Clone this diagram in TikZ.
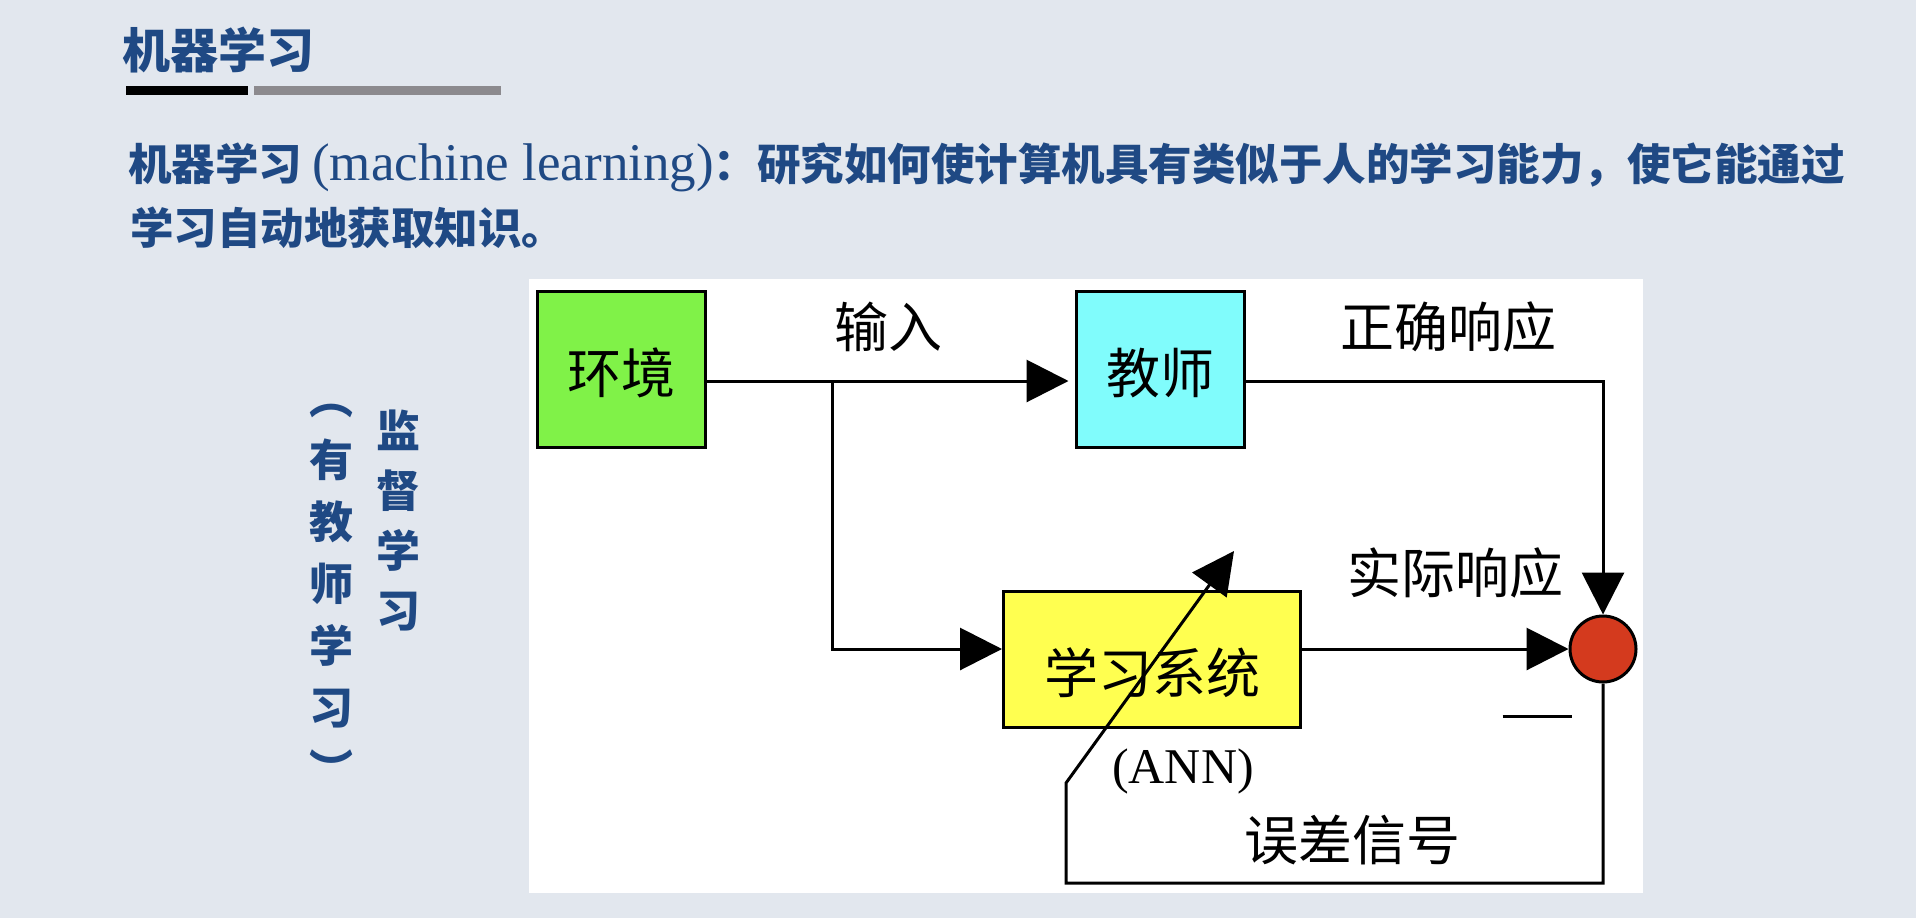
\documentclass[tikz,border=0pt]{standalone}
\usepackage{fontspec}
\setmainfont{Liberation Serif}
\newfontfamily\cjk{Noto Sans CJK SC}
\usetikzlibrary{arrows.meta,positioning}
\definecolor{slidebg}{RGB}{226,231,238}
\definecolor{inkblue}{RGB}{31,73,132}
\definecolor{envgreen}{RGB}{128,242,72}
\definecolor{teachcyan}{RGB}{128,252,252}
\definecolor{learnyellow}{RGB}{255,255,80}
\definecolor{sumred}{RGB}{212,58,30}
\definecolor{bargray}{RGB}{140,138,142}

\begin{document}
\begin{tikzpicture}[x=1pt, y=-1pt,
    box/.style={draw, line width=3pt, minimum width=168pt, minimum height=156pt, inner sep=0pt, text height=49pt, text depth=0pt, font=\cjk\fontsize{54}{54}\selectfont},
    lbl/.style={inner sep=0pt, font=\cjk\fontsize{54}{54}\selectfont},
    slide/.style={inner sep=0pt, text=inkblue, font=\cjk\bfseries\fontsize{43.5}{43.5}\selectfont},
    arrow/.style={-{Triangle[length=42pt, width=42pt]}, line width=3pt}
]
% slide background and white panel
\fill[slidebg] (0,0) rectangle (1916,918);
\fill[white] (529,279) rectangle (1643,893);
\useasboundingbox (0,0) rectangle (1916,918);

% heading
\node[slide, anchor=west, font=\cjk\bfseries\fontsize{48}{48}\selectfont] (title) at (122,50) {机器学习};
\fill[black] (126,86) rectangle (248,95);
\fill[bargray] (254,86) rectangle (501,95);

\node[slide, anchor=west] (def1) at (128,167) {机器学习 {\rmfamily\mdseries\fontsize{53}{53}\selectfont (machine learning)}：研究如何使计算机具有类似于人的学习能力，使它能通过};
\node[slide, anchor=west] (def2) at (130,228) {学习自动地获取知识。};

% vertical heading
\node[slide, anchor=north, align=center, font=\cjk\bfseries\fontsize{44}{60}\selectfont] (sup) at (398,410) {监\\督\\学\\习};
\node[slide, anchor=north, align=center, font=\cjk\bfseries\fontsize{44}{62}\selectfont] (teach) at (331,404) {︵\\有\\教\\师\\学\\习\\︶};

% blocks
\node[box, fill=envgreen] (env) at (621,369) {环境};
\node[box, fill=teachcyan, right=368pt of env] (teacher) {教师};
\node[box, fill=learnyellow, minimum width=297pt, minimum height=136pt, text height=69pt] (learner) at (1152,659) {学习系统};
\node[circle, draw, line width=3pt, fill=sumred, minimum size=66pt, inner sep=0pt] (sum) at (1603,649) {};

\coordinate (split) at (832,381);
\coordinate (loop) at (1066,883);
\coordinate (bend) at (1066,783);
\coordinate (adjust) at (1234,551);

\draw[arrow] (env.east |- split) -- ([xshift=-6pt]teacher.west |- split);
\draw[arrow] (split) |- (learner.west |- sum);
\draw[arrow] (teacher.east |- split) -| (sum.north);
\draw[arrow] (learner.east |- sum) -- (sum.west);
\draw[arrow] (sum.south) |- (loop) -- (bend) -- (adjust);

% labels
\node[lbl] (inlbl) at (888,327) {输入};
\node[lbl] (truelbl) at (1448,327) {正确响应};
\node[lbl] (actlbl) at (1455,573) {实际响应};
\node[inner sep=0pt, font=\fontsize{50}{50}\selectfont] (ann) at (1183,771) {(ANN)};
\node[lbl] (errlbl) at (1352,840) {误差信号};
\node[inner sep=0pt] (minus) at (1537,716) {\rule{69pt}{3pt}};
\end{tikzpicture}
\end{document}
